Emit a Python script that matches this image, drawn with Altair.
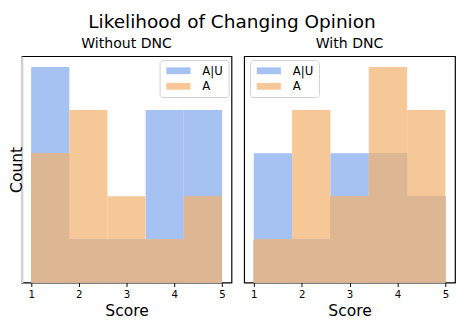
import altair as alt
import pandas as pd

bin_starts = [1.0, 1.8, 2.6, 3.4, 4.2]
bin_width = 0.8
series_names = ["A|U", "A"]
panels = ["Without DNC", "With DNC"]
without_au = [5, 1, 1, 4, 4]
without_a = [3, 4, 2, 1, 2]
with_au = [3, 1, 3, 3, 2]
with_a = [1, 4, 2, 5, 4]
x_ticks = [1, 2, 3, 4, 5]

BLUE = "#a5c2f2"
ORANGE = "#f7c897"
OVERLAP = "#ddb693"
FONT = "DejaVu Sans"


def panel_df(au, a):
    rows = []
    for s, c1, c2 in zip(bin_starts, au, a):
        rows.append({"start": s, "end": s + bin_width, "series": "A|U", "count": c1, "ov": min(c1, c2)})
        rows.append({"start": s, "end": s + bin_width, "series": "A", "count": c2, "ov": min(c1, c2)})
    return pd.DataFrame(rows)


def make_panel(df, title, first, legend_x, width):
    xs = alt.X("start:Q", scale=alt.Scale(domain=[0.8, 5.2], nice=False, zero=False),
               axis=alt.Axis(values=x_ticks, format="d", title="Score", titleFontSize=16,
                             titleFontWeight="normal", titleFont=FONT, labelFont=FONT,
                             labelFontSize=10.5, labelColor="black", tickColor="black",
                             tickSize=4, labelPadding=3, grid=False, domain=False, titlePadding=3))
    if first:
        yax = alt.Axis(title="Count", titleFontSize=16, titleFontWeight="normal", titleFont=FONT,
                       labels=False, ticks=False, grid=False, domainColor="#d0d0d0",
                       domainWidth=2.5, titlePadding=-3, zindex=1)
    else:
        yax = None
    ys = alt.Y("count:Q", scale=alt.Scale(domain=[0, 5.25], nice=False), axis=yax)
    bars = alt.Chart(df).mark_bar(opacity=1).encode(
        x=xs, x2="end:Q", y=ys, y2=alt.datum(0),
        color=alt.Color("series:N", scale=alt.Scale(domain=series_names, range=[BLUE, ORANGE]),
                        legend=alt.Legend(title=None, orient="none", legendX=legend_x, legendY=4,
                                          symbolType="M-1,-0.875L5.2,-0.875L5.2,0.875L-1,0.875Z",
                                          symbolSize=64, symbolStrokeWidth=0,
                                          labelFont=FONT, labelFontSize=12, labelOffset=27,
                                          rowPadding=4, padding=5, strokeColor="#d0d0d0",
                                          fillColor="white", cornerRadius=3)),
        order=alt.Order("count:Q", sort="descending"),
    )
    over = alt.Chart(df).mark_bar(color=OVERLAP).encode(
        x="start:Q", x2="end:Q", y=alt.Y("ov:Q"), y2=alt.datum(0),
    )
    return alt.layer(bars, over).properties(
        width=width, height=233,
        title=alt.TitleParams(title, fontSize=14.5, fontWeight="normal", font=FONT, offset=5),
    )


left = make_panel(panel_df(without_au, without_a), panels[0], True, 142, 216)
right = make_panel(panel_df(with_au, with_a), panels[1], False, 6, 217)

chart = alt.hconcat(left, right, spacing=11).resolve_scale(color="independent").properties(
    title=alt.TitleParams("Likelihood of Changing Opinion", fontSize=19, fontWeight="normal",
                          font=FONT, anchor="middle", offset=4),
    padding={"left": 0, "top": 0, "right": 0, "bottom": 0},
).configure_view(stroke="black", strokeWidth=1.2)

chart.save("out.html", embed_options={"renderer": "svg", "actions": False})
